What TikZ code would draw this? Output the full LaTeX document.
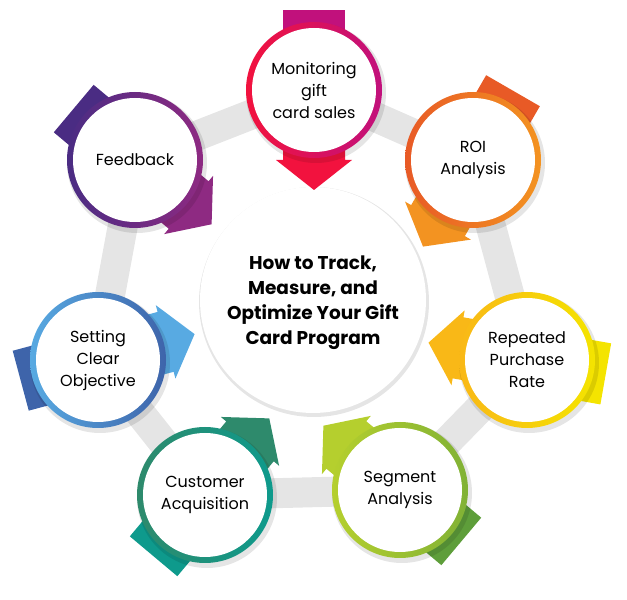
\documentclass[tikz,border=0pt]{standalone}
\usepackage{fontspec}
\setmainfont{Poppins}
\usetikzlibrary{calc}
\definecolor{mT}{HTML}{C1117C}\definecolor{mH}{HTML}{F2123E}
\definecolor{rT}{HTML}{E85A26}\definecolor{rH}{HTML}{F39321}
\definecolor{pT}{HTML}{F4E400}\definecolor{pH}{HTML}{F9B817}
\definecolor{sT}{HTML}{5E9E3A}\definecolor{sH}{HTML}{B5CF2E}
\definecolor{cT}{HTML}{0E9A8C}\definecolor{cH}{HTML}{2E8A6C}
\definecolor{oT}{HTML}{3E64AA}\definecolor{oH}{HTML}{58AAE2}
\definecolor{fT}{HTML}{4A2C83}\definecolor{fH}{HTML}{8E2A82}
\newcommand\arrowband[4]{%
 \begin{scope}[shift={(#1)},rotate=#2]
  \fill[#3] (-80,-31)--(0,-31)--(0,31)--(-80,31)--cycle;
  \fill[#4] (-1,-31)--(70,-31)--(70,-38)--(100,0)--(70,38)--(70,31)--(-1,31)--cycle;
 \end{scope}}
\newcommand\stepcircle[5]{%
 \fill[shad] ($(#1)+(2,-3)$) circle (70);
 \shade[left color=#2,right color=#3] (#1) circle (68);
 \node[circle,fill=white,minimum size=124pt,inner sep=0pt] (#4) at (#1) {};
 \node[lbl] at (#1) {#5};}
\begin{document}
\begin{tikzpicture}[x=1pt,y=1pt,
  lbl/.style={align=center,font=\fontsize{16}{22}\selectfont,text=black},
  shad/.style={fill=black,opacity=0.10}]
\useasboundingbox (0,0) rectangle (627,600);
\coordinate (M) at (314,510); \coordinate (R) at (473,440); \coordinate (P) at (527,240);
\coordinate (S) at (400,110); \coordinate (C) at (205,105); \coordinate (O) at (98,240);
\coordinate (F) at (135,440); \coordinate (Z) at (313,300);
\draw[line width=30pt,color=black!10,line join=miter] (M)--(R)--(P)--(S)--(C)--(O)--(F)--cycle;
\fill[shad] (314,298) circle (115);
\node[circle,fill=white,minimum size=226pt,inner sep=0pt] (center) at (Z) {};
\node[align=center,font=\bfseries\fontsize{18.5}{25}\selectfont] at (313,297) {How to Track,\\Measure, and\\Optimize Your Gift\\Card Program};
\arrowband{M}{-90}{mT}{mH}
\arrowband{R}{240}{rT}{rH}
\arrowband{P}{170}{pT}{pH}
\arrowband{S}{140}{sT}{sH}
\arrowband{C}{50}{cT}{cH}
\arrowband{O}{15}{oT}{oH}
\arrowband{F}{320}{fT}{fH}
\stepcircle{M}{mH}{mT}{m}{Monitoring\\gift\\card sales}
\stepcircle{R}{rT}{rH}{r}{ROI\\Analysis}
\stepcircle{P}{pH}{pT}{p}{Repeated\\Purchase\\Rate}
\stepcircle{S}{sH}{sT!60!sH}{s}{Segment\\Analysis}
\stepcircle{C}{cH}{cT}{c}{Customer\\Acquisition}
\stepcircle{O}{oH}{oT}{o}{Setting\\Clear\\Objective}
\stepcircle{F}{fT}{fH}{f}{Feedback}
\end{tikzpicture}
\end{document}
